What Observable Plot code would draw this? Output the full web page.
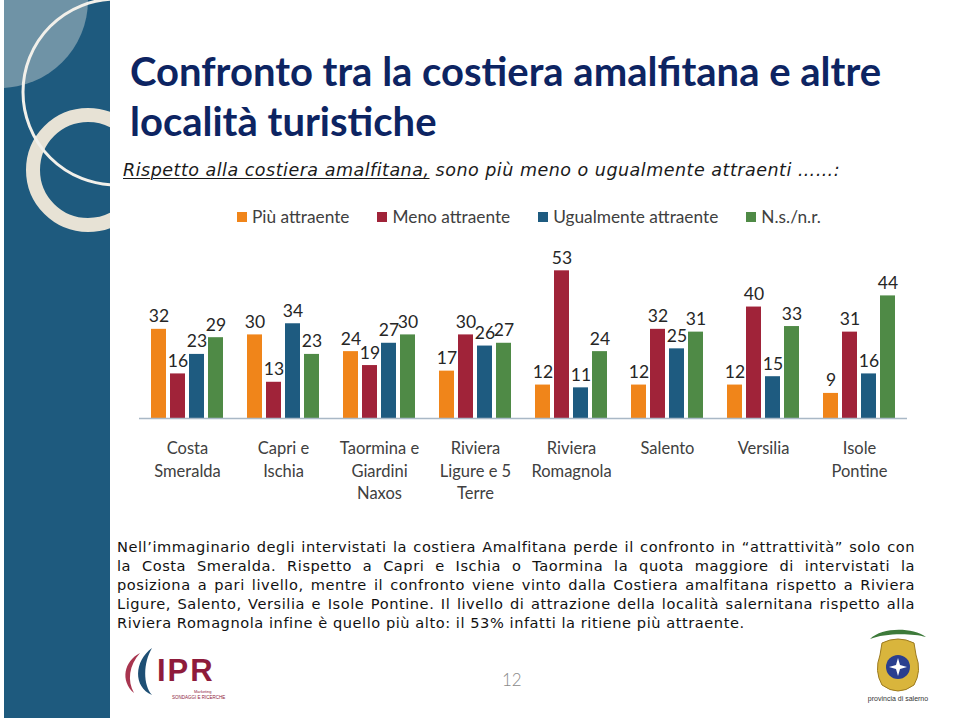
<!DOCTYPE html>
<html>
<head>
<meta charset="utf-8">
<script src="https://cdn.jsdelivr.net/npm/d3@7"></script>
<script src="https://cdn.jsdelivr.net/npm/@observablehq/plot@0.6"></script>
<style>
  html, body { margin: 0; padding: 0; background: #fff; }
  #page { position: relative; width: 959px; height: 718px; overflow: hidden; background: #fff; }
  .abs { position: absolute; }
  #title { left: 130px; top: 46px; font-family: Lato, sans-serif; font-weight: 700; font-size: 40px; line-height: 50px; color: #0d2462; white-space: nowrap; }
  #subtitle { left: 123px; top: 160px; font-family: "DejaVu Sans", sans-serif; font-style: italic; font-size: 17.5px; letter-spacing: 0.5px; color: #1a1a1a; white-space: nowrap; }
  #subtitle u { text-decoration-thickness: 1px; text-underline-offset: 2px; }
  #legend { left: 237px; top: 206px; font-family: Lato, sans-serif; font-size: 17.3px; color: #404040; display: flex; white-space: nowrap; }
  #legend .item { display: flex; align-items: center; margin-right: 28px; }
  #legend .sw { width: 10px; height: 10px; margin-right: 5px; }
  #chart { left: 110px; top: 235px; }
  #para { left: 117px; top: 537px; width: 798px; font-family: "DejaVu Sans", sans-serif; font-size: 14.6px; letter-spacing: 0.55px; line-height: 19px; color: #111; }
  #para .ln { white-space: nowrap; text-align: justify; text-align-last: justify; }
  #para .ln.last { text-align-last: left; }
  #pagenum { left: 502px; top: 669px; font-family: Lato, sans-serif; font-weight: 300; font-size: 17px; color: #8a8a8a; }
</style>
</head>
<body>
<div id="page">
  <svg class="abs" style="left:0;top:0" width="112" height="718">
    <defs><clipPath id="pc"><rect x="4" y="0" width="106" height="718"/></clipPath></defs>
    <rect x="4" y="0" width="106" height="718" fill="#1e5a7e"/>
    <g clip-path="url(#pc)">
      <circle cx="0" cy="0" r="88" fill="#6f93a6"/>
      <circle cx="88" cy="170" r="55" fill="none" stroke="#e7e2d5" stroke-width="14"/>
      <circle cx="116" cy="92" r="93" fill="none" stroke="#f2f0ea" stroke-width="3"/>
    </g>
  </svg>
  <div id="title" class="abs">Confronto tra la costiera amalfitana e altre<br>località turistiche</div>
  <div id="subtitle" class="abs"><u>Rispetto alla costiera amalfitana,</u> sono più meno o ugualmente attraenti ……:</div>
  <div id="legend" class="abs"></div>
  <div id="chart" class="abs"></div>
  <div id="para" class="abs">
    <div class="ln">Nell’immaginario degli intervistati la costiera Amalfitana perde il confronto in “attrattività” solo con</div>
    <div class="ln">la Costa Smeralda. Rispetto a Capri e Ischia o Taormina la quota maggiore di intervistati la</div>
    <div class="ln">posiziona a pari livello, mentre il confronto viene vinto dalla Costiera amalfitana rispetto a Riviera</div>
    <div class="ln">Ligure, Salento, Versilia e Isole Pontine. Il livello di attrazione della località salernitana rispetto alla</div>
    <div class="ln last">Riviera Romagnola infine è quello più alto: il 53% infatti la ritiene più attraente.</div>
  </div>
  <div id="pagenum" class="abs">12</div>
  <!-- IPR logo -->
  <svg class="abs" style="left:118px;top:645px" width="120" height="60">
    <path d="M22 8 C6 16 2 36 16 48 C9 36 11 20 22 8 Z" fill="#a8354f"/>
    <path d="M34 3 C16 16 15 42 34 50 C25 40 25 18 34 3 Z" fill="#1e4f74"/>
    <text x="39" y="36" font-family="Liberation Sans, Arial, sans-serif" font-weight="700" font-size="31" letter-spacing="2" fill="#8e1b3b">IPR</text>
    <text x="76" y="48" font-family="Liberation Sans, sans-serif" font-size="4" fill="#8e1b3b">Marketing</text>
    <text x="54" y="54" font-family="Liberation Sans, sans-serif" font-size="4.5" fill="#8e1b3b">SONDAGGI E RICERCHE</text>
  </svg>
  <!-- Provincia di Salerno emblem -->
  <svg class="abs" style="left:862px;top:625px" width="72" height="80">
    <path d="M8 14 C20 2 50 2 64 12 C50 8 22 8 8 14 Z" fill="#3d7a3a"/>
    <path d="M20 18 Q36 10 52 18 L54 30 Q60 46 52 60 Q36 72 20 60 Q12 46 18 30 Z" fill="#d9b53c" stroke="#9c7a1e" stroke-width="1"/>
    <circle cx="36" cy="42" r="12" fill="#2a3f8f"/>
    <path d="M36 33 L38 40 L45 42 L38 44 L36 51 L34 44 L27 42 L34 40 Z" fill="#fff"/>
    <text x="36" y="76" text-anchor="middle" font-family="Liberation Sans, sans-serif" font-size="7" fill="#333">provincia di salerno</text>
  </svg>
</div>
<script>
// ---- data ----
const categories = ["Costa Smeralda", "Capri e Ischia", "Taormina e Giardini Naxos", "Riviera Ligure e 5 Terre", "Riviera Romagnola", "Salento", "Versilia", "Isole Pontine"];
const tickLabels = ["Costa\nSmeralda", "Capri e\nIschia", "Taormina e\nGiardini\nNaxos", "Riviera\nLigure e 5\nTerre", "Riviera\nRomagnola", "Salento", "Versilia", "Isole\nPontine"];
const series = ["Più attraente", "Meno attraente", "Ugualmente attraente", "N.s./n.r."];
const piuAttraente = [32, 30, 24, 17, 12, 12, 12, 9];
const menoAttraente = [16, 13, 19, 30, 53, 32, 40, 31];
const ugualmenteAttraente = [23, 34, 27, 26, 11, 25, 15, 16];
const nsnr = [29, 23, 30, 27, 24, 31, 33, 44];
const colors = ["#f0851a", "#a02339", "#1e5b80", "#4f8a46"];

const values = [piuAttraente, menoAttraente, ugualmenteAttraente, nsnr];
const data = categories.flatMap((c, i) => series.map((s, j) => ({category: c, series: s, value: values[j][i]})));
const labelRows = categories.map((c, i) => ({category: c, label: tickLabels[i]}));

// legend
const legend = document.getElementById("legend");
series.forEach((s, j) => {
  const it = document.createElement("div");
  it.className = "item";
  it.innerHTML = `<span class="sw" style="background:${colors[j]}"></span><span>${s}</span>`;
  legend.appendChild(it);
});

const chart = Plot.plot({
  width: 820,
  height: 275,
  marginLeft: 26,
  marginRight: 20,
  marginTop: 20,
  marginBottom: 92,
  style: {fontFamily: "Lato, sans-serif", background: "transparent", overflow: "visible"},
  fx: {domain: categories, padding: 0, axis: null},
  x: {domain: series, axis: null, paddingInner: 0.2, paddingOuter: 0.58},
  y: {domain: [0, 58.5], axis: null},
  color: {domain: series, range: colors},
  marks: [
    Plot.barY(data, {fx: "category", x: "series", y: "value", fill: "series"}),
    Plot.ruleY([0], {stroke: "#a9b8c6", strokeWidth: 1.3}),
    Plot.text(data, {fx: "category", x: "series", y: "value", text: d => String(d.value), lineAnchor: "bottom", dy: -7, fontSize: 17.5, fill: "#262626"}),
    Plot.text(labelRows, {fx: "category", text: "label", frameAnchor: "bottom", lineAnchor: "top", dy: 20, lineHeight: 1.36, fontSize: 16.5, fill: "#404040"})
  ]
});
document.getElementById("chart").appendChild(chart);
</script>
</body>
</html>
